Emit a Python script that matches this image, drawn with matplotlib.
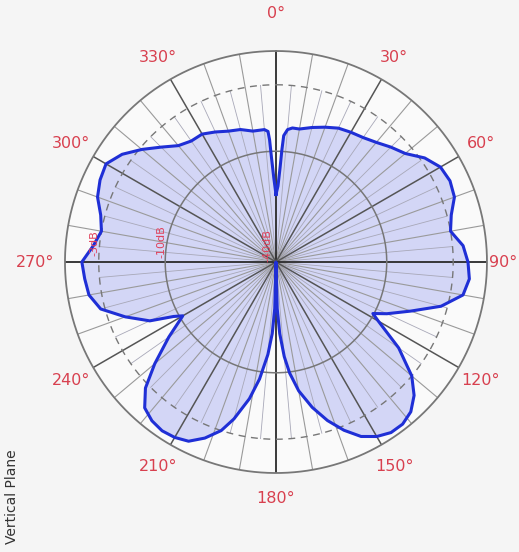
import matplotlib.pyplot as plt
import numpy as np

# polar pattern, angle in degrees (clockwise from top), relative radius 0..1
angles = [0, 1.5, 2.5, 3, 3.5, 5, 7, 10, 15, 20, 25, 30, 35, 40, 45, 50, 55,
          60, 65, 70, 75, 80, 85, 90, 95, 100, 105, 110, 115, 118, 120, 125,
          130, 134, 138, 142, 146, 150, 154, 158, 162, 166, 170, 173, 175,
          177, 178.5, 180, 181.5, 183, 185, 188, 191, 195, 198, 202, 206,
          210, 214, 218, 222, 226, 230, 235, 240, 242, 245, 250, 255, 260,
          265, 270, 275, 280, 285, 290, 295, 300, 305, 310, 315, 320, 325,
          330, 335, 340, 345, 350, 355, 356.5, 357, 357.5, 358.5, 360]
level = [0.32, 0.36, 0.45, 0.53, 0.60, 0.63, 0.64, 0.64, 0.66, 0.68, 0.70,
         0.71, 0.72, 0.74, 0.77, 0.80, 0.86, 0.90, 0.91, 0.90, 0.86, 0.84,
         0.89, 0.91, 0.92, 0.90, 0.81, 0.68, 0.58, 0.52, 0.56, 0.71, 0.84,
         0.91, 0.955, 0.975, 0.975, 0.955, 0.92, 0.86, 0.79, 0.71, 0.62,
         0.53, 0.45, 0.34, 0.22, 0.0, 0.22, 0.34, 0.44, 0.56, 0.66, 0.77,
         0.84, 0.90, 0.945, 0.96, 0.965, 0.955, 0.93, 0.86, 0.75, 0.62,
         0.51, 0.55, 0.66, 0.76, 0.86, 0.90, 0.91, 0.92, 0.87, 0.84, 0.86,
         0.90, 0.92, 0.93, 0.89, 0.83, 0.77, 0.72, 0.70, 0.70, 0.68, 0.66,
         0.65, 0.63, 0.63, 0.62, 0.58, 0.50, 0.40, 0.32]

angle_labels = ['0°', '30°', '60°', '90°', '120°', '150°',
                '180°', '210°', '240°', '270°', '300°', '330°']
ring_r = [0.525, 0.84, 1.0]
db_labels = ['-40dB', '-10dB', '-3dB']
db_r = [0.02, 0.525, 0.84]

fig = plt.figure(figsize=(5.19, 5.52), dpi=100, facecolor='#f5f5f5')
ax = fig.add_axes([0.1252, 0.1431, 0.8131, 0.7645], projection='polar')
ax.set_facecolor('#fafafa')
ax.set_theta_zero_location('N')
ax.set_theta_direction(-1)
ax.set_ylim(0, 1)
ax.grid(False)
ax.set_xticks([])
ax.set_yticks([])
ax.spines['polar'].set_visible(False)

th = np.deg2rad(angles)
ax.fill(th, level, color='#d3d6f6', zorder=1)

# spokes
for a in range(0, 360, 5):
    t = np.deg2rad(a)
    if a % 90 == 0:
        ax.plot([t, t], [0, 1], color='#2a2a2a', lw=1.3, zorder=3)
    elif a % 30 == 0:
        ax.plot([t, t], [0, 1], color='#555555', lw=1.1, zorder=3)
    elif a % 10 == 0:
        ax.plot([t, t], [0, 1], color='#9a9a9a', lw=0.8, zorder=2)
    else:
        ax.plot([t, t], [0, 0.84], color='#a8a8b8', lw=0.6, zorder=2)

# rings
circ = np.linspace(0, 2 * np.pi, 400)
ax.plot(circ, np.full_like(circ, ring_r[0]), color='#777777', lw=1.1, zorder=3)
ax.plot(circ, np.full_like(circ, ring_r[1]), color='#777777', lw=1.0,
        ls=(0, (5, 4)), zorder=3)
ax.plot(circ, np.full_like(circ, ring_r[2]), color='#777777', lw=1.3,
        zorder=3, clip_on=False)

ax.plot(th, level, color='#1f2fd6', lw=2.2, zorder=4)

# dB labels along 270 spoke
for lab, r in zip(db_labels, db_r):
    ax.text(np.deg2rad(272), r + 0.02, lab, rotation=90, color='#e0405a',
            fontsize=8, ha='center', va='bottom', zorder=5)

# angle labels
lab_pos = {0: 1.18, 90: 1.075, 270: 1.14}
for i, lab in enumerate(angle_labels):
    a = i * 30
    r = lab_pos.get(a, 1.12)
    ax.text(np.deg2rad(a), r, lab, color='#d8404f', fontsize=11.5,
            ha='center', va='center', clip_on=False)

fig.text(0.023, 0.015, 'Vertical Plane', rotation=90, fontsize=10,
         color='#333333', ha='center', va='bottom')

fig.savefig('out.png', dpi=100, facecolor=fig.get_facecolor())
